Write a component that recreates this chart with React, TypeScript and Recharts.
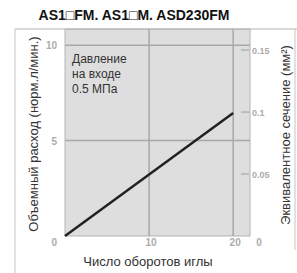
import React from 'react';
import { ComposedChart, Line, XAxis, YAxis, ReferenceLine, ReferenceArea } from 'recharts';

// needle turns vs flow rate / equivalent section
const turns = [0, 20];
const flowRate = [0, 6.45];
const section = [0, 0.1];
const xTicks = [10, 20];
const leftTicks = [0, 5, 10];
const rightTicks = [0, 0.05, 0.1, 0.15];
const noteLines = ['Давление', 'на входе', '0.5 МПа'];

const chartData = turns.map((t, i) => ({ turns: t, flow: flowRate[i], section: section[i] }));

const FONT = '"Liberation Sans", Arial, sans-serif';
const TICK_COLOR = '#ababab';
const GRID = '#a8a8a8';

const LeftTick = (props: any) => {
    const { x, y, payload } = props;
    const isZero = payload.value === 0;
    return (
        <text x={x - 8} y={isZero ? y + 10 : y + 4} textAnchor="end" fontSize={10} fontWeight="bold" fill={TICK_COLOR} fontFamily={FONT}>
            {payload.value}
        </text>
    );
};

const RightTick = (props: any) => {
    const { x, y, payload } = props;
    if (payload.value === 0) {
        return (
            <text x={x + 9} y={y + 10} textAnchor="middle" fontSize={10} fontWeight="bold" fill={TICK_COLOR} fontFamily={FONT}>
                0
            </text>
        );
    }
    return (
        <g>
            <line x1={x - 9} x2={x - 1} y1={y} y2={y} stroke={GRID} strokeWidth={1.2} />
            <text x={x + 2} y={y + 4} textAnchor="start" fontSize={9} fontWeight="bold" fill={TICK_COLOR} fontFamily={FONT}>
                {payload.value}
            </text>
        </g>
    );
};

const BottomTick = (props: any) => {
    const { x, y, payload } = props;
    return (
        <text x={x + 2} y={y + 10} textAnchor="middle" fontSize={10} fontWeight="bold" fill={TICK_COLOR} fontFamily={FONT}>
            {payload.value}
        </text>
    );
};

export default function App() {
    return (
        <div style={{ position: 'absolute', left: 0, top: 0, width: 297, height: 273, background: '#fff' }}>
            <ComposedChart
                width={297}
                height={273}
                data={chartData}
                margin={{ top: 29, right: 0, left: 15, bottom: 0 }}
            >
                <XAxis
                    dataKey="turns"
                    type="number"
                    domain={[0, 22]}
                    ticks={xTicks}
                    height={37}
                    axisLine={false}
                    tickLine={false}
                    tickSize={0}
                    tickMargin={0}
                    tick={<BottomTick />}
                    interval={0}
                />
                <YAxis
                    yAxisId="left"
                    type="number"
                    domain={[0, 10.85]}
                    ticks={leftTicks}
                    width={50}
                    axisLine={false}
                    tickLine={false}
                    tickSize={0}
                    tickMargin={0}
                    tick={<LeftTick />}
                    interval={0}
                />
                <YAxis
                    yAxisId="right"
                    orientation="right"
                    type="number"
                    domain={[0, 0.167]}
                    ticks={rightTicks}
                    width={47}
                    axisLine={false}
                    tickLine={false}
                    tickSize={0}
                    tickMargin={0}
                    tick={<RightTick />}
                    interval={0}
                />
                <ReferenceArea yAxisId="left" x1={0} x2={22} y1={0} y2={10.85} fill="#dedede" fillOpacity={1} stroke="#b4b4b4" strokeWidth={1} />
                <ReferenceLine yAxisId="left" x={10} stroke={GRID} strokeWidth={1.5} />
                <ReferenceLine yAxisId="left" x={20} stroke={GRID} strokeWidth={1.5} />
                <ReferenceLine yAxisId="left" y={5} stroke={GRID} strokeWidth={1.5} />
                <ReferenceLine yAxisId="left" y={10} stroke={GRID} strokeWidth={1.5} />
                {/* equivalent section shares the same straight line; kept invisible so the right axis is bound */}
                <Line
                    yAxisId="right"
                    dataKey="section"
                    type="linear"
                    stroke="none"
                    dot={false}
                    activeDot={false}
                    isAnimationActive={false}
                />
                <Line
                    yAxisId="left"
                    dataKey="flow"
                    type="linear"
                    stroke="#222"
                    strokeWidth={2.5}
                    dot={false}
                    isAnimationActive={false}
                />
            </ComposedChart>
            <svg width={297} height={273} style={{ position: 'absolute', left: 0, top: 0, pointerEvents: 'none' }}>
                {/* outer frame */}
                <line x1={15} x2={297} y1={29} y2={29} stroke="#b4b4b4" strokeWidth={1} />
                <line x1={15} x2={15} y1={29} y2={273} stroke="#c4c4c4" strokeWidth={1} />
                <line x1={295} x2={295} y1={29} y2={250} stroke="#c4c4c4" strokeWidth={1} />
                <text x={134} y={20} textAnchor="middle" fontSize={14} fontWeight="bold" fill="#111" fontFamily={FONT}>
                    AS1□FM. AS1□M. ASD230FM
                </text>
                {noteLines.map((s, i) => (
                    <text key={s} x={72} y={63 + i * 15} fontSize={12} fill="#333" fontFamily={FONT}>
                        {s}
                    </text>
                ))}
                <text x={0} y={0} transform="translate(38,134) rotate(-90)" textAnchor="middle" fontSize={13} fill="#333" fontFamily={FONT}>
                    Объемный расход (норм.л/мин.)
                </text>
                <text x={0} y={0} transform="translate(290,135) rotate(-90)" textAnchor="middle" fontSize={13} fill="#333" fontFamily={FONT}>
                    Эквивалентное сечение (мм²)
                </text>
                <text x={148} y={266} textAnchor="middle" fontSize={13} fill="#333" fontFamily={FONT}>
                    Число оборотов иглы
                </text>
            </svg>
        </div>
    );
}
